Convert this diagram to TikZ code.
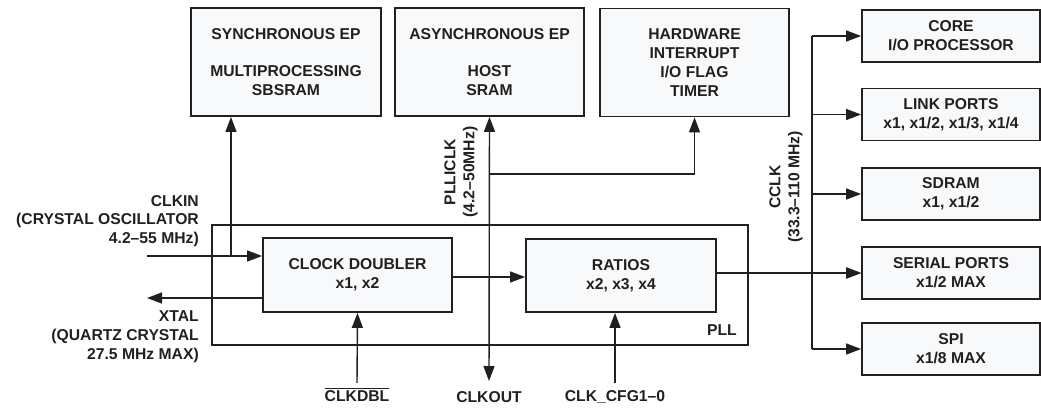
\documentclass[tikz,border=0pt]{standalone}
\usepackage{fontspec}
\setmainfont{Liberation Sans}
\usepackage{xcolor}
\usetikzlibrary{arrows.meta, positioning, calc}
\definecolor{ink}{RGB}{35,31,32}
\definecolor{boxfill}{RGB}{248,249,251}
\newcommand{\ovbar}[1]{\leavevmode\vbox{\hrule height 1.2pt\kern1.6pt\hbox{#1}}}

\begin{document}
\begin{tikzpicture}[x=1pt, y=-1pt,
    block/.style={rectangle, draw=ink, line width=1.8pt, fill=boxfill, inner sep=0pt, font=\fontsize{15.7pt}{18.8pt}\selectfont\bfseries, text=ink, align=center},
    top/.style={block, minimum width=189pt, minimum height=108pt},
    port/.style={block, minimum width=178pt, minimum height=52pt},
    sigtext/.style={inner sep=0pt, font=\fontsize{15.7pt}{18.8pt}\selectfont\bfseries, text=ink, align=center},
    wire/.style={draw=ink, line width=1.4pt},
    sig/.style={wire, -{Triangle[length=15pt, width=11pt]}},
    dsig/.style={wire, {Triangle[length=15pt, width=11pt]}-{Triangle[length=15pt, width=11pt]}},
]
    \useasboundingbox (0,0) rectangle (1041,409);

    % top blocks
    \node[top, minimum width=190pt] (sync) at (286,62) {SYNCHRONOUS EP\\[19pt]MULTIPROCESSING\\SBSRAM};
    \node[top] (async) at (489.5,62) {ASYNCHRONOUS EP\\[19pt]HOST\\SRAM};
    \node[top] (hw) at (694.5,62.5) {HARDWARE\\INTERRUPT\\I/O FLAG\\TIMER};

    % clocked blocks
    \node[port] (core) at (951,36) {CORE\\I/O PROCESSOR};
    \node[port] (link) at (951,114.5) {LINK PORTS\\x1, x1/2, x1/3, x1/4};
    \node[port] (sdram) at (951,194) {SDRAM\\x1, x1/2};
    \node[port] (serial) at (951,273) {SERIAL PORTS\\x1/2 MAX};
    \node[port] (spi) at (951,349) {SPI\\x1/8 MAX};

    % PLL
    \node[rectangle, draw=ink, line width=2pt, minimum width=536pt, minimum height=120pt, inner sep=0pt] (pll) at (480,285) {};
    \node[block, minimum width=189pt, minimum height=74pt] (dbl) at (357.5,275) {CLOCK DOUBLER\\x1, x2};
    \node[block, minimum width=190pt, minimum height=73pt] (ratios) at (621,275.5) {RATIOS\\x2, x3, x4};
    \node[sigtext, anchor=east] (plllbl) at (737,330) {PLL};

    % inputs and outputs
    \coordinate (clkin) at (147,256);
    \coordinate (tapa) at (231,256);
    \coordinate (xtal) at (147,298);
    \coordinate (dblin) at (357,383);
    \coordinate (cfgin) at (615,383);
    \coordinate (pllout) at (489,381);
    \coordinate (tapb) at (489,174);
    \coordinate (dblout) at (452,277);
    \coordinate (bus) at (812,0);

    \node[sigtext, anchor=east, align=right] (clkinlbl) at (199,221) {CLKIN\\(CRYSTAL OSCILLATOR\\4.2–55 MHz)};
    \node[sigtext, anchor=east, align=right] (xtallbl) at (199,337) {XTAL\\(QUARTZ CRYSTAL\\27.5 MHz MAX)};
    \node[sigtext, rotate=90] (plliclk) at (461,172) {PLLICLK\\(4.2–50MHz)};
    \node[sigtext, rotate=90] (cclk) at (786,187) {CCLK\\(33.3–110 MHz)};
    \node[sigtext] (clkdbl) at (357,395) {\ovbar{CLKDBL}};
    \node[sigtext] (clkout) at (489,397) {CLKOUT};
    \node[sigtext] (cfg) at (615,397) {CLK\_CFG1–0};

    % connections
    \draw[sig] (clkin) -- (clkin -| dbl.west);
    \draw[sig] (tapa) -- (tapa |- sync.south);
    \draw[sig] (xtal -| dbl.west) -- (xtal);
    \draw[sig] (dblin) -- (dbl.south);
    \draw[sig] (cfgin) -- (cfgin |- ratios.south);
    \draw[sig] (dblout) -- (dblout -| ratios.west);
    \draw[dsig] (pllout) -- (async.south);
    \draw[sig] (tapb) -| (hw.south);
    \draw[sig] (ratios.east |- serial.west) -- (serial.west);

    % CCLK bus
    \draw[wire] (bus |- core.west) -- (bus |- spi.west);
    \foreach \b in {core, link, sdram, serial, spi}
        \draw[sig] (bus |- \b.west) -- (\b.west);
\end{tikzpicture}
\end{document}
